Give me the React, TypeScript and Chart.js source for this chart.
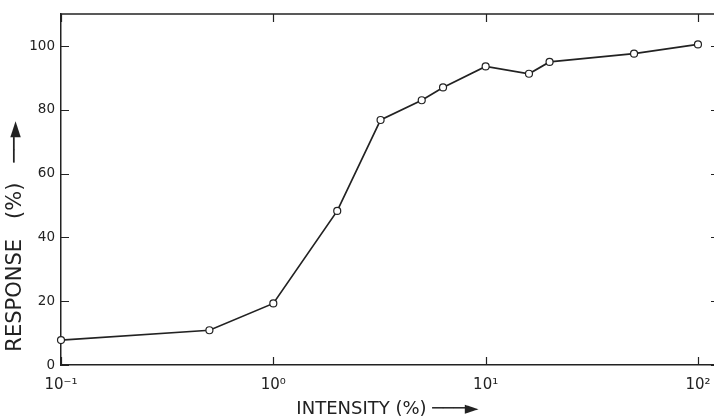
import React, { useEffect, useRef } from "react";
import { Chart, registerables } from "chart.js";

Chart.register(...registerables);

const intensity = [0.1, 0.5, 1.0, 2.0, 3.2, 5.0, 6.3, 10, 16, 20, 50, 100];
const response = [7.8, 10.9, 19.3, 48.3, 76.8, 83.0, 87.0, 93.6, 91.3, 95.0, 97.6, 100.5];
const xTickValues = [0.1, 1, 10, 100];
const xTickLabels = ["10\u207B\u00B9", "10\u2070", "10\u00B9", "10\u00B2"];
const yTickValues = [0, 20, 40, 60, 80, 100];
const xTitle = "INTENSITY (%) \u2500\u2500\u2500\u25BA";
const yTitle = "  RESPONSE   (%)   \u2500\u2500\u25BA";

const INK = "#222";
const FONT = "'DejaVu Sans', 'Liberation Sans', sans-serif";

const framePlugin = {
  id: "frameTicks",
  afterDraw(chart: any) {
    const { ctx, chartArea } = chart;
    const { left, right, top, bottom } = chartArea;
    const xs = chart.scales.x;
    const ys = chart.scales.y;
    ctx.save();
    ctx.strokeStyle = INK;
    ctx.lineWidth = 1.5;
    ctx.beginPath();
    ctx.moveTo(left, top);
    ctx.lineTo(right, top);
    ctx.stroke();
    ctx.lineWidth = 1.2;
    ctx.beginPath();
    for (const v of xTickValues) {
      const px = Math.round(xs.getPixelForValue(v)) + 0.5;
      ctx.moveTo(px, bottom);
      ctx.lineTo(px, bottom - 8);
      ctx.moveTo(px, top);
      ctx.lineTo(px, top + 8);
    }
    for (const v of yTickValues) {
      const py = Math.round(ys.getPixelForValue(v)) + 0.5;
      ctx.moveTo(left, py);
      ctx.lineTo(left + 8, py);
      ctx.moveTo(right, py);
      ctx.lineTo(right - 3, py);
    }
    ctx.stroke();
    ctx.restore();
  },
};

export default function App() {
  const ref = useRef<HTMLCanvasElement | null>(null);

  useEffect(() => {
    if (!ref.current) return;
    const chart = new Chart(ref.current, {
      type: "line",
      data: {
        datasets: [
          {
            data: intensity.map((x, i) => ({ x, y: response[i] })),
            borderColor: INK,
            borderWidth: 1.7,
            pointRadius: 3.5,
            pointHoverRadius: 3.5,
            pointBackgroundColor: "#ffffff",
            pointBorderColor: INK,
            pointBorderWidth: 1.2,
            tension: 0,
            clip: false as any,
          },
        ],
      },
      options: {
        animation: false,
        responsive: false,
        events: [],
        layout: { autoPadding: false, padding: { left: 0, top: 8, right: 0, bottom: 0 } },
        plugins: { legend: { display: false }, tooltip: { enabled: false } },
        scales: {
          x: {
            type: "logarithmic",
            min: 0.1,
            max: 119,
            afterBuildTicks: (s: any) => {
              s.ticks = xTickValues.map((value) => ({ value }));
            },
            afterFit: (s: any) => {
              s.paddingLeft = 0;
              s.paddingRight = 0;
              s.height = 55;
            },
            ticks: {
              autoSkip: false,
              maxRotation: 0,
              padding: 11,
              color: INK,
              font: { family: FONT, size: 15 },
              callback: (v: any) => {
                const i = xTickValues.findIndex((t) => Math.abs(t - Number(v)) < 1e-9);
                return i >= 0 ? xTickLabels[i] : "";
              },
            },
            grid: { display: false, drawTicks: false },
            border: { display: true, color: INK, width: 1.5 },
            title: {
              display: true,
              text: xTitle,
              color: INK,
              font: { family: FONT, size: 18 },
              padding: { top: 0, bottom: 0 },
            },
          },
          y: {
            type: "linear",
            min: 0,
            max: 110,
            afterBuildTicks: (s: any) => {
              s.ticks = yTickValues.map((value) => ({ value }));
            },
            afterFit: (s: any) => {
              s.width = 61;
            },
            ticks: {
              padding: 6,
              color: INK,
              font: { family: FONT, size: 13.5 },
            },
            grid: { display: false, drawTicks: false },
            border: { display: true, color: INK, width: 1.5 },
            title: {
              display: true,
              text: yTitle,
              align: "start",
              color: INK,
              font: { family: FONT, size: 21 },
              padding: { top: 3, bottom: 0 },
            },
          },
        },
      },
      plugins: [framePlugin],
    } as any);
    return () => chart.destroy();
  }, []);

  return (
    <div style={{ position: "fixed", left: 0, top: 0, width: 714, height: 420, background: "#fff" }}>
      <canvas ref={ref} width={714} height={420} />
    </div>
  );
}
